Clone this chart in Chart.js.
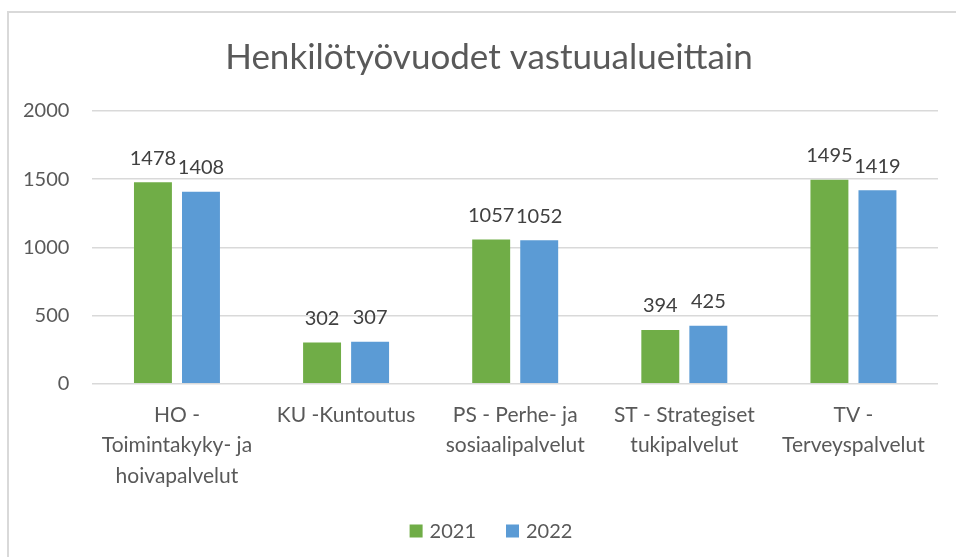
<!DOCTYPE html>
<html>
<head>
<meta charset="utf-8">
<script src="https://cdn.jsdelivr.net/npm/chart.js@4.4.1/dist/chart.umd.min.js"></script>
<style>
  html, body { margin: 0; padding: 0; background: #fff; overflow: hidden; width: 956px; height: 557px; }
  #frame { position: absolute; left: 7px; top: 11px; width: 970px; height: 560px; border: 2px solid #d9d9d9; box-sizing: border-box; }
  #wrap { position: absolute; left: 8px; top: 12px; width: 962px; height: 545px; }
</style>
</head>
<body>
<div id="frame"></div>
<div id="wrap"><canvas id="c"></canvas></div>
<script>
const titleText = "Henkilötyövuodet vastuualueittain";
const categories = [
  ["HO -", "Toimintakyky- ja", "hoivapalvelut"],
  ["KU -Kuntoutus"],
  ["PS - Perhe- ja", "sosiaalipalvelut"],
  ["ST - Strategiset", "tukipalvelut"],
  ["TV -", "Terveyspalvelut"]
];
const seriesNames = ["2021", "2022"];
const values2021 = [1478, 302, 1057, 394, 1495];
const values2022 = [1408, 307, 1052, 425, 1419];
const yTicks = [0, 500, 1000, 1500, 2000];

const TEXT = "#595959";
const FONT = "Lato, 'Noto Sans', sans-serif";

// data labels above bars
const labelPlugin = {
  id: "barLabels",
  afterDatasetsDraw(chart) {
    const ctx = chart.ctx;
    ctx.save();
    ctx.font = "20px " + FONT;
    ctx.fillStyle = "#404040";
    ctx.textAlign = "center";
    ctx.textBaseline = "middle";
    chart.data.datasets.forEach((ds, di) => {
      chart.getDatasetMeta(di).data.forEach((bar, i) => {
        ctx.fillText(String(ds.data[i]), bar.x, bar.y - 24);
      });
    });
    ctx.restore();
  }
};

// title and legend centred on the whole chart frame
const frameDecor = {
  id: "frameDecor",
  afterDraw(chart) {
    const ctx = chart.ctx;
    const cx = chart.width / 2;
    ctx.save();
    ctx.fillStyle = TEXT;
    ctx.textBaseline = "middle";
    ctx.textAlign = "center";
    ctx.font = "35px " + FONT;
    ctx.fillText(titleText, cx, 46);

    // legend
    ctx.font = "20px " + FONT;
    ctx.textAlign = "left";
    const box = 13, gapText = 7, gapItem = 30;
    const items = chart.data.datasets.map(ds => ({ label: ds.label, color: ds.backgroundColor, w: ctx.measureText(ds.label).width }));
    let total = 0;
    items.forEach((it, i) => { total += box + gapText + it.w + (i < items.length - 1 ? gapItem : 0); });
    let x = cx + 2 - total / 2;
    const y = 519;
    items.forEach(it => {
      ctx.fillStyle = it.color;
      ctx.fillRect(x, y - box / 2, box, box);
      x += box + gapText;
      ctx.fillStyle = TEXT;
      ctx.fillText(it.label, x, y + 1);
      x += it.w + gapItem;
    });
    ctx.restore();
  }
};

new Chart(document.getElementById("c"), {
  type: "bar",
  data: {
    labels: categories,
    datasets: [
      { label: seriesNames[0], data: values2021, backgroundColor: "#70AD47" },
      { label: seriesNames[1], data: values2022, backgroundColor: "#5B9BD5" }
    ]
  },
  options: {
    responsive: true,
    maintainAspectRatio: false,
    animation: false,
    categoryPercentage: 0.568,
    barPercentage: 0.79,
    layout: { padding: { left: 15, right: 32, top: 99, bottom: 58 } },
    plugins: {
      title: { display: false },
      legend: { display: false },
      tooltip: { enabled: false }
    },
    scales: {
      x: {
        grid: { display: false },
        border: { display: false },
        afterFit(scale) { scale.paddingLeft = 0; scale.paddingRight = 0; },
        ticks: {
          color: TEXT,
          font: { family: FONT, size: 21, lineHeight: 1.45 },
          padding: 8,
          maxRotation: 0,
          autoSkip: false
        }
      },
      y: {
        min: 0,
        max: 2000,
        afterBuildTicks(scale) { scale.ticks = yTicks.map(v => ({ value: v })); },
        afterFit(scale) { scale.width = scale.width - scale.options.ticks.padding; },
        grid: { color: "#d9d9d9", lineWidth: 1.5, drawTicks: false },
        border: { display: false },
        ticks: {
          color: TEXT,
          font: { family: FONT, size: 20 },
          padding: 23,
          callback: v => String(v)
        }
      }
    }
  },
  plugins: [labelPlugin, frameDecor]
});
</script>
</body>
</html>
